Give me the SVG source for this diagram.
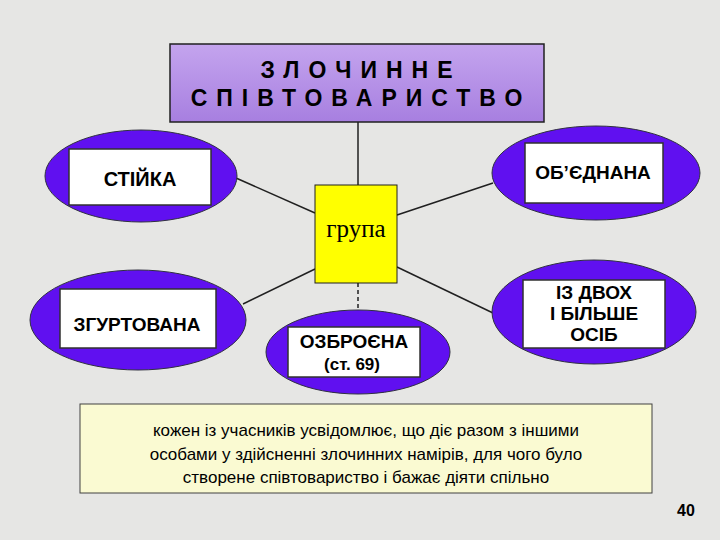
<svg xmlns="http://www.w3.org/2000/svg" width="720" height="540" viewBox="0 0 720 540">
<defs>
<linearGradient id="tg" x1="0" y1="0" x2="0" y2="1"><stop offset="0" stop-color="#c4a4ee"/><stop offset="1" stop-color="#a77fe0"/></linearGradient>
</defs>
<style>
.el{fill:#6010f0;stroke:#303040;stroke-width:1}
.wb{fill:#fff;stroke:#303030;stroke-width:1.5}
.t{font-family:"Liberation Sans",Arial,sans-serif;font-weight:bold;fill:#000;text-anchor:middle}
.ln{stroke:#202020;stroke-width:1.5;fill:none}
</style>
<rect width="720" height="540" fill="#e6e6e4"/>
<g id="connectors">
<line class="ln" x1="358" y1="122" x2="358" y2="185"/>
<line class="ln" x1="236" y1="178" x2="315" y2="213"/>
<line class="ln" x1="493" y1="183" x2="397" y2="215"/>
<line class="ln" x1="243" y1="304" x2="315" y2="269"/>
<line class="ln" x1="493" y1="313" x2="397" y2="267"/>
<line class="ln" x1="358" y1="283" x2="358" y2="310" stroke-dasharray="4,3"/>
</g>
<g id="top"><rect x="170" y="44" width="374" height="78" fill="url(#tg)" stroke="#202020" stroke-width="1.5"/>
<text class="t" x="361" y="78" font-size="23" letter-spacing="9">ЗЛОЧИННЕ</text>
<text class="t" x="361" y="106" font-size="23" letter-spacing="9">СПІВТОВАРИСТВО</text></g>
<g id="grupa"><rect x="315" y="185" width="82" height="98" fill="#ffff00" stroke="#202020" stroke-width="1"/>
<text x="356" y="237" font-family="Liberation Serif,serif" font-size="25" text-anchor="middle" fill="#000">група</text></g>
<g id="stiyka"><ellipse class="el" cx="141" cy="176" rx="96" ry="46"/><rect class="wb" x="69" y="149" width="142" height="56"/>
<text class="t" x="140" y="186" font-size="20">СТІЙКА</text></g>
<g id="obiednana"><ellipse class="el" cx="596" cy="173" rx="104" ry="47"/><rect class="wb" x="525" y="143" width="138" height="60"/>
<text class="t" x="593" y="179" font-size="19">ОБ’ЄДНАНА</text></g>
<g id="zgurtovana"><ellipse class="el" cx="138" cy="320" rx="108" ry="50"/><rect class="wb" x="60" y="289" width="156" height="59"/>
<text class="t" x="137" y="331" font-size="19">ЗГУРТОВАНА</text></g>
<g id="ozbroiena"><ellipse class="el" cx="358" cy="352" rx="92" ry="42"/><rect class="wb" x="288" y="327" width="132" height="50"/>
<text class="t" x="354" y="348" font-size="19">ОЗБРОЄНА</text>
<text class="t" x="352" y="370" font-size="17">(ст. 69)</text></g>
<g id="izdvokh"><ellipse class="el" cx="594" cy="312" rx="102" ry="52"/><rect class="wb" x="523" y="280" width="142" height="68"/>
<text class="t" x="594" y="299" font-size="19">ІЗ ДВОХ</text>
<text class="t" x="594" y="320" font-size="19">І  БІЛЬШЕ</text>
<text class="t" x="594" y="341" font-size="19">ОСІБ</text></g>
<g id="note"><rect x="80" y="404" width="572" height="89" fill="#fafad2" stroke="#404040" stroke-width="1"/>
<text x="366" y="436" font-family="Liberation Sans,Arial,sans-serif" font-size="17" text-anchor="middle">кожен із учасників усвідомлює, що діє разом з іншими</text>
<text x="366" y="460" font-family="Liberation Sans,Arial,sans-serif" font-size="17" text-anchor="middle">особами у здійсненні злочинних намірів, для чого було</text>
<text x="366" y="483" font-family="Liberation Sans,Arial,sans-serif" font-size="17" text-anchor="middle">створене співтовариство і бажає діяти спільно</text></g>
<text class="t" x="686" y="516" font-size="16">40</text>
</svg>
